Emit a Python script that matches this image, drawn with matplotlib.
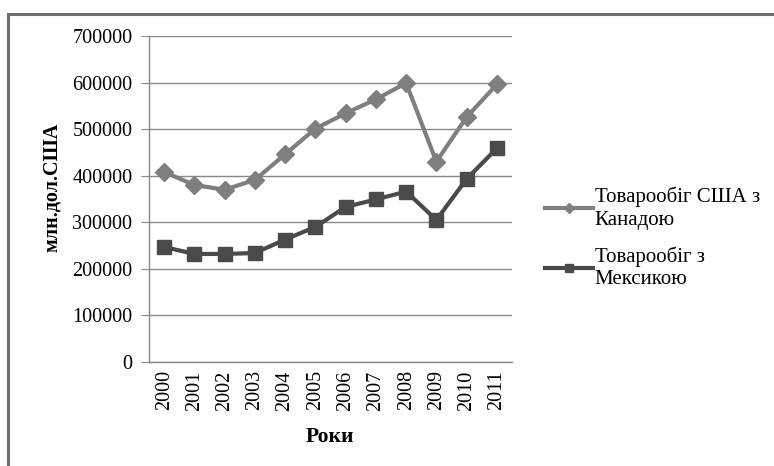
import matplotlib.pyplot as plt
from matplotlib.patches import Rectangle

# -----------------------------------
# DATA
# -----------------------------------
years = ["2000", "2001", "2002", "2003", "2004", "2005",
         "2006", "2007", "2008", "2009", "2010", "2011"]
canada = [408000, 380000, 370000, 391000, 446000, 501000,
          534000, 564000, 599000, 430000, 526000, 596000]
mexico = [247000, 232000, 232000, 234000, 263000, 290000,
          333000, 349000, 366000, 305000, 393000, 459000]

label_canada = "Товарообіг США з\nКанадою"
label_mexico = "Товарообіг з\nМексикою"

plt.rcParams["font.family"] = ["Liberation Serif", "DejaVu Serif"]

W, H = 774, 466
fig = plt.figure(figsize=(W / 100, H / 100), dpi=100)

# outer chart frame (only left and top visible)
fig.patches.append(Rectangle((8 / W, -0.1), 1.2, (H - 14) / H + 0.1,
                             transform=fig.transFigure, fill=False,
                             edgecolor="#6e6e6e", linewidth=2.2))

ax = fig.add_axes([149 / W, (H - 362) / H, (512 - 149) / W, (362 - 36) / H])

x = list(range(len(years)))
ax.plot(x, canada, color="#7f7f7f", linewidth=3, marker="D",
        markersize=9, label=label_canada)
ax.plot(x, mexico, color="#4a4a4a", linewidth=3, marker="s",
        markersize=10, label=label_mexico)

ax.set_xlim(-0.5, len(years) - 0.5)
ax.set_ylim(0, 700000)
ax.set_yticks(range(0, 700001, 100000))
ax.set_yticklabels([str(v) for v in range(0, 700001, 100000)], fontsize=14.5)
ax.set_xticks(x)
ax.set_xticklabels(years, rotation=90, fontsize=14.5)
ax.tick_params(axis="x", length=0, pad=6)
ax.tick_params(axis="y", length=6, color="#888888", pad=6)

ax.grid(axis="y", color="#888888", linewidth=1)
ax.set_axisbelow(True)
for side in ["top", "right"]:
    ax.spines[side].set_visible(False)
for side in ["left", "bottom"]:
    ax.spines[side].set_color("#888888")
    ax.spines[side].set_linewidth(1)

fig.text(52 / W, 1 - 187 / H, "млн.дол.США", rotation=90, fontsize=14.5,
         fontweight="bold", ha="center", va="center")
fig.text(330 / W, 1 - 437 / H, "Роки", fontsize=15.5,
         fontweight="bold", ha="center", va="center")

leg = fig.legend(loc="center left", bbox_to_anchor=(526 / W, 1 - 238 / H),
                 frameon=False, fontsize=15, handlelength=2.3,
                 handletextpad=0.1, labelspacing=0.8, markerscale=0.6)
for t in leg.get_texts():
    t.set_linespacing(1.25)

fig.savefig("out.png", dpi=100)
